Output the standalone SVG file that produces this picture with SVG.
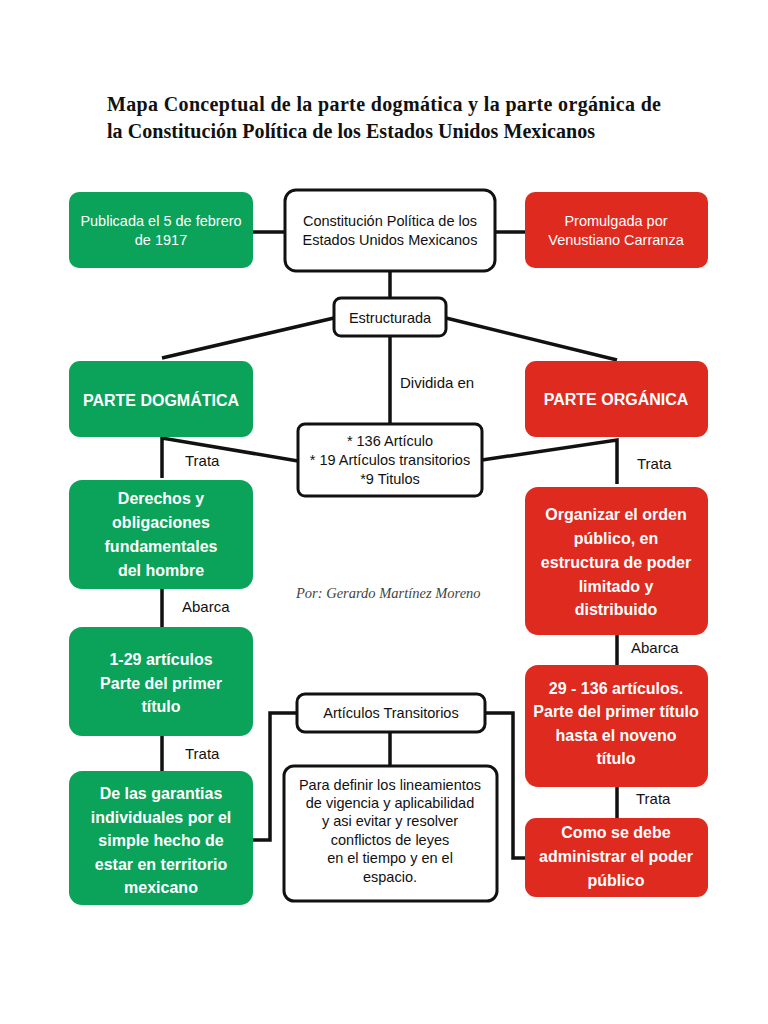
<svg xmlns="http://www.w3.org/2000/svg" width="768" height="1024" viewBox="0 0 768 1024">
<style>
.g{fill:#0BA259}
.r{fill:#DE2A1F}
.w{fill:#fff;stroke:#111;stroke-width:3}
.bt{font-family:"Liberation Sans",Arial,sans-serif;font-weight:bold;font-size:16px;fill:#fff;text-anchor:middle}
.nt{font-family:"Liberation Sans",Arial,sans-serif;font-size:14.5px;fill:#fff;text-anchor:middle}
.kt{font-family:"Liberation Sans",Arial,sans-serif;font-size:14.5px;fill:#111;text-anchor:middle}
.lb{font-family:"Liberation Sans",Arial,sans-serif;font-size:15px;fill:#111}
.title{font-family:"Liberation Serif","Times New Roman",serif;font-weight:bold;font-size:20px;fill:#111}
.ln{fill:none;stroke:#111;stroke-width:3.5}
</style>
<rect width="768" height="1024" fill="#fff"/>
<text class="title" x="107" y="111" textLength="554" lengthAdjust="spacing">Mapa Conceptual de la parte dogmática y la parte orgánica de</text>
<text class="title" x="107" y="138" textLength="488" lengthAdjust="spacing">la Constitución Política de los Estados Unidos Mexicanos</text>

<g id="connectors">
<line class="ln" x1="253" y1="232" x2="285" y2="232"/>
<line class="ln" x1="495" y1="232" x2="525" y2="232"/>
<line class="ln" x1="390" y1="271" x2="390" y2="298"/>
<line class="ln" x1="334" y1="318" x2="162" y2="358"/>
<line class="ln" x1="446" y1="318" x2="617" y2="360"/>
<line class="ln" x1="390" y1="336" x2="390" y2="424"/>
<polyline class="ln" points="162,478 162,438 298,461"/>
<polyline class="ln" points="617,484 617,440 482,460"/>
<line class="ln" x1="162" y1="589" x2="162" y2="627"/>
<line class="ln" x1="617" y1="635" x2="617" y2="665"/>
<line class="ln" x1="162" y1="736" x2="162" y2="771"/>
<line class="ln" x1="617" y1="787" x2="617" y2="818"/>
<polyline class="ln" points="297,713 270,713 270,840 253,840"/>
<polyline class="ln" points="485,713 513,713 513,858 525,858"/>
<line class="ln" x1="390" y1="732" x2="390" y2="766"/>
</g>

<g id="publicada">
<rect class="g" x="69" y="192" width="184" height="76" rx="10"/>
<text class="nt" x="161" y="226">Publicada el 5 de febrero</text>
<text class="nt" x="161" y="245">de 1917</text>
</g>
<g id="constitucion">
<rect class="w" x="285" y="190" width="210" height="81" rx="11"/>
<text class="kt" x="390" y="226">Constitución Política de los</text>
<text class="kt" x="390" y="245">Estados Unidos Mexicanos</text>
</g>
<g id="promulgada">
<rect class="r" x="525" y="192" width="183" height="76" rx="10"/>
<text class="nt" x="616" y="226">Promulgada por</text>
<text class="nt" x="616" y="245">Venustiano Carranza</text>
</g>
<g id="estructurada">
<rect class="w" x="334" y="298" width="112" height="38" rx="7"/>
<text class="kt" x="390" y="323">Estructurada</text>
</g>
<text class="lb" x="400" y="388">Dividida en</text>
<g id="dogmatica">
<rect class="g" x="69" y="361" width="184" height="76" rx="11"/>
<text class="bt" x="161" y="406">PARTE DOGMÁTICA</text>
</g>
<g id="organica">
<rect class="r" x="525" y="361" width="183" height="76" rx="11"/>
<text class="bt" x="616" y="405">PARTE ORGÁNICA</text>
</g>
<g id="articulos136">
<rect class="w" x="298" y="424" width="184" height="72" rx="7"/>
<text class="kt" x="390" y="446">* 136 Artículo</text>
<text class="kt" x="390" y="465">* 19 Artículos transitorios</text>
<text class="kt" x="390" y="484">*9 Titulos</text>
</g>
<text class="lb" x="185" y="466">Trata</text>
<text class="lb" x="637" y="469">Trata</text>
<g id="derechos">
<rect class="g" x="69" y="480" width="184" height="109" rx="13"/>
<text class="bt" x="161" y="504">Derechos y</text>
<text class="bt" x="161" y="528">obligaciones</text>
<text class="bt" x="161" y="552">fundamentales</text>
<text class="bt" x="161" y="576">del hombre</text>
</g>
<g id="organizar">
<rect class="r" x="525" y="487" width="183" height="148" rx="13"/>
<text class="bt" x="616" y="520">Organizar el orden</text>
<text class="bt" x="616" y="544">público, en</text>
<text class="bt" x="616" y="568">estructura de poder</text>
<text class="bt" x="616" y="592">limitado y</text>
<text class="bt" x="616" y="615">distribuido</text>
</g>
<text x="296" y="598" font-family="Liberation Serif,serif" font-style="italic" font-size="14.5" fill="#444">Por: Gerardo Martínez Moreno</text>
<text class="lb" x="182" y="612">Abarca</text>
<text class="lb" x="631" y="653">Abarca</text>
<g id="art1-29">
<rect class="g" x="69" y="627" width="184" height="109" rx="13"/>
<text class="bt" x="161" y="665">1-29 artículos</text>
<text class="bt" x="161" y="689">Parte del primer</text>
<text class="bt" x="161" y="712">título</text>
</g>
<g id="art29-136">
<rect class="r" x="525" y="665" width="183" height="122" rx="13"/>
<text class="bt" x="616" y="694">29 - 136 artículos.</text>
<text class="bt" x="616" y="717">Parte del primer título</text>
<text class="bt" x="616" y="741">hasta el noveno</text>
<text class="bt" x="616" y="764">título</text>
</g>
<text class="lb" x="185" y="759">Trata</text>
<text class="lb" x="636" y="804">Trata</text>
<g id="garantias">
<rect class="g" x="69" y="771" width="184" height="134" rx="13"/>
<text class="bt" x="161" y="799">De las garantias</text>
<text class="bt" x="161" y="823">individuales por el</text>
<text class="bt" x="161" y="846">simple hecho de</text>
<text class="bt" x="161" y="870">estar en territorio</text>
<text class="bt" x="161" y="893">mexicano</text>
</g>
<g id="como">
<rect class="r" x="525" y="818" width="183" height="79" rx="11"/>
<text class="bt" x="616" y="838">Como se debe</text>
<text class="bt" x="616" y="862">administrar el poder</text>
<text class="bt" x="616" y="886">público</text>
</g>
<g id="transitorios">
<rect class="w" x="297" y="694" width="188" height="38" rx="8"/>
<text class="kt" x="391" y="718">Artículos Transitorios</text>
</g>
<g id="paradefinir">
<rect class="w" x="284" y="766" width="213" height="135" rx="10"/>
<text class="kt" x="390" y="790">Para definir los lineamientos</text>
<text class="kt" x="390" y="808">de vigencia y aplicabilidad</text>
<text class="kt" x="390" y="826">y asi evitar y resolver</text>
<text class="kt" x="390" y="845">conflictos de leyes</text>
<text class="kt" x="390" y="863">en el tiempo y en el</text>
<text class="kt" x="390" y="882">espacio.</text>
</g>
</svg>
